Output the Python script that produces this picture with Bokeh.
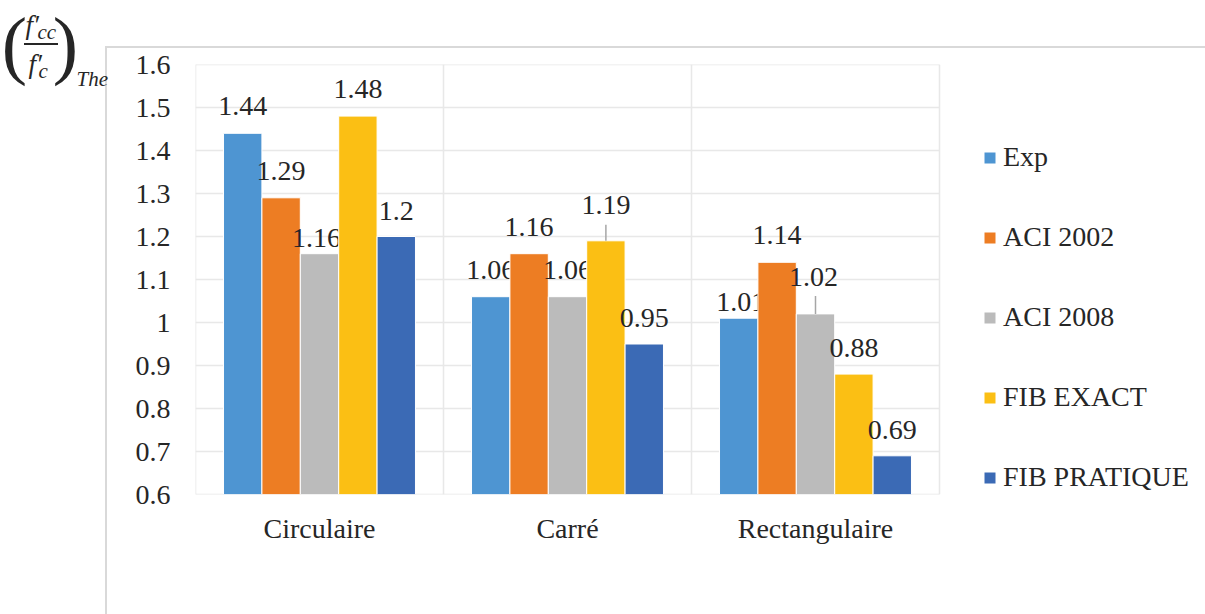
from bokeh.plotting import figure
from bokeh.models import (ColumnDataSource, Range1d, Legend, LegendItem, Label, FixedTicker)
from bokeh.transform import dodge
from bokeh.core.properties import value
from bokeh.embed import file_html
from bokeh.resources import INLINE

# ---------------- data ----------------
categories = ["Circulaire", "Carré", "Rectangulaire"]
series_names = ["Exp", "ACI 2002", "ACI 2008", "FIB EXACT", "FIB PRATIQUE"]
exp_vals = [1.44, 1.06, 1.01]
aci2002_vals = [1.29, 1.16, 1.14]
aci2008_vals = [1.16, 1.06, 1.02]
fib_exact_vals = [1.48, 1.19, 0.88]
fib_pratique_vals = [1.2, 0.95, 0.69]
y_ticks = [0.6, 0.7, 0.8, 0.9, 1.0, 1.1, 1.2, 1.3, 1.4, 1.5, 1.6]
y_tick_labels = ["0.6", "0.7", "0.8", "0.9", "1", "1.1", "1.2", "1.3", "1.4", "1.5", "1.6"]

series_values = [exp_vals, aci2002_vals, aci2008_vals, fib_exact_vals, fib_pratique_vals]

# ---------------- styles ----------------
colors = ["#4E95D2", "#ED7D23", "#BBBBBB", "#FBBF14", "#3B6AB5"]
label_lift = [[27, 27, 16], [27, 27, 27], [16, 27, 37], [27, 36, 26], [26, 26, 26]]
label_dx = [[0, 0, 2], [0, 0, 0], [-3, 0, -2], [0, 0, 0], [0, 0, 0]]
leaders = {(3, 1): 16, (2, 2): 18}  # (series, category): leader length px
FONT = "Liberation Serif"
TXT = "#262626"
FS = "28px"
GRID = "#e8e8e8"
FRAME_LINE = "#d9d9d9"

W, H = 1205, 614
FL, FT, FW, FH = 195, 64, 744, 430   # plot-area box in canvas pixels
bar_w = 0.1548
ncat = len(categories)
cat_pos = [j + 0.5 for j in range(ncat)]
y0, y1 = y_ticks[0], y_ticks[-1]

# frame runs to the right canvas edge so that the legend there is not clipped;
# the x range is chosen so that the categories fill the FW-wide plot area
p = figure(x_range=Range1d(0, ncat * (W - FL) / FW), y_range=Range1d(y0, y1),
           width=W, height=H, output_backend="svg", toolbar_location=None,
           min_border_left=FL, min_border_right=0,
           min_border_top=FT, min_border_bottom=H - FT - FH)
p.background_fill_color = "white"
p.border_fill_alpha = 0
p.outline_line_color = None
p.styles = {
    "background-color": "white",
    "background-image": (f"linear-gradient({FRAME_LINE}, {FRAME_LINE}), "
                         f"linear-gradient({FRAME_LINE}, {FRAME_LINE}), "
                         f"linear-gradient({TXT}, {TXT})"),
    "background-size": "100% 2px, 2px 100%, 34px 2px",
    "background-position": "106px 46px, 105px 46px, 24px 43px",
    "background-repeat": "no-repeat",
}

# axes
p.yaxis.ticker = FixedTicker(ticks=y_ticks)
p.yaxis.major_label_overrides = {t: l for t, l in zip(y_ticks, y_tick_labels)}
p.xaxis.ticker = FixedTicker(ticks=cat_pos)
p.xaxis.major_label_overrides = {t: c for t, c in zip(cat_pos, categories)}
for ax in (p.xaxis[0], p.yaxis[0]):
    ax.axis_line_color = None
    ax.major_tick_line_color = None
    ax.minor_tick_line_color = None
    ax.major_label_text_font = FONT
    ax.major_label_text_font_size = FS
    ax.major_label_text_color = TXT
p.yaxis.major_label_standoff = 19
p.xaxis.major_label_standoff = 12
p.xgrid.visible = False
p.ygrid.visible = False

# gridlines limited to the plot area
p.segment(x0=[0] * len(y_ticks), x1=[ncat] * len(y_ticks), y0=y_ticks, y1=y_ticks,
          line_color=GRID, line_width=1.5)
p.segment(x0=list(range(ncat + 1)), x1=list(range(ncat + 1)),
          y0=[y0] * (ncat + 1), y1=[y1] * (ncat + 1), line_color=GRID, line_width=1.5)

# bars and labels
px_per_unit = FH / (y1 - y0)
legend_items = []
for i, (name, vals, col) in enumerate(zip(series_names, series_values, colors)):
    off = (i - 2) * bar_w
    src = ColumnDataSource(dict(
        x=cat_pos, v=vals,
        txt=[f"{v:g}" for v in vals],
        yo=[-l for l in label_lift[i]],
        xo=label_dx[i],
    ))
    r = p.vbar(x=dodge("x", off), top="v", bottom=y0, width=bar_w,
               source=src, fill_color=col, line_color="white", line_width=1)
    legend_items.append(LegendItem(label=name, renderers=[r]))
    p.text(x=dodge("x", off), y="v", text="txt", source=src,
           x_offset="xo", y_offset="yo", text_align="center", text_baseline="middle",
           text_font=value(FONT), text_font_size=FS, text_color=TXT)
    lx, ly0, ly1 = [], [], []
    for j, v in enumerate(vals):
        if (i, j) in leaders:
            lx.append(cat_pos[j]); ly0.append(v); ly1.append(v + leaders[(i, j)] / px_per_unit)
    if lx:
        lsrc = ColumnDataSource(dict(x=lx, y0=ly0, y1=ly1))
        p.segment(x0=dodge("x", off), y0="y0", x1=dodge("x", off), y1="y1",
                  source=lsrc, line_color="#a6a6a6", line_width=1.5)

legend = Legend(items=legend_items, location=(982 - FL, 1), orientation="vertical",
                glyph_width=15, glyph_height=15, label_height=32, spacing=48,
                padding=0, margin=0, label_standoff=6,
                label_text_font=FONT, label_text_font_size=FS, label_text_color=TXT,
                border_line_alpha=0, background_fill_alpha=0)
p.add_layout(legend)


# y-axis title: (f'cc / f'c)_The, placed in canvas pixels (y = middle of the text box)
def lab(text, cx, cy, size, side, style="italic", align="left"):
    p.add_layout(Label(x=cx, y=cy, x_units="canvas", y_units="canvas", text=text,
                       text_font=FONT, text_font_size=size, text_font_style=style,
                       text_align=align, text_baseline="middle", text_color=TXT), side)

lab("(", 14, 43, "76px", "left", style="normal", align="center")
lab(")", 65, 43, "76px", "left", style="normal", align="center")
lab("f′", 25, 24, "27px", "left")
lab("cc", 37, 31, "21px", "left")
lab("f′", 28, 63, "27px", "left")
lab("c", 38, 70, "21px", "above")
lab("The", 76, 78, "21px", "above")

open("out.html", "w").write(file_html(p, INLINE))
